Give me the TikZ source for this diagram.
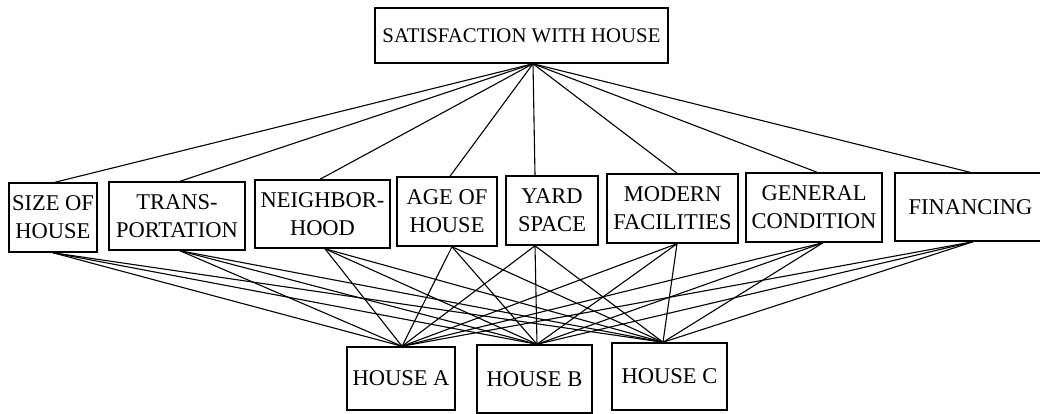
\documentclass[tikz,border=0pt]{standalone}
\usepackage{fontspec}
\setmainfont{Liberation Serif}
\begin{document}
\begin{tikzpicture}[x=1pt,y=-1pt,
  box/.style={draw,line width=1.5pt,inner sep=0pt,align=center,font=\fontsize{22.5}{28}\selectfont},
  link/.style={line width=1.1pt}]
\useasboundingbox (0,0) rectangle (1040,413);
% top
\node[box,minimum width=293pt,minimum height=55pt,font=\fontsize{20.8}{26}\selectfont] (goal) at (521.5,35.5) {SATISFACTION WITH HOUSE};
% criteria
\node[box,minimum width=88pt,minimum height=69pt] (size) at (53,217.5) {SIZE OF\\HOUSE};
\node[box,minimum width=136pt,minimum height=68pt] (trans) at (177,216) {TRANS-\\PORTATION};
\node[box,minimum width=135pt,minimum height=68pt] (neigh) at (322.5,214) {NEIGHBOR-\\HOOD};
\node[box,minimum width=100pt,minimum height=69pt] (age) at (447,211.5) {AGE OF\\HOUSE};
\node[box,minimum width=92pt,minimum height=69pt] (yard) at (552,210.5) {YARD\\SPACE};
\node[box,minimum width=131pt,minimum height=69pt] (modern) at (672.5,208.5) {MODERN\\FACILITIES};
\node[box,minimum width=136pt,minimum height=69pt] (general) at (814,207.5) {GENERAL\\CONDITION};
\node[box,minimum width=155pt,minimum height=68pt] (fin) at (972.5,207) {\hspace*{-4pt}FINANCING};
% alternatives
\node[box,minimum width=108pt,minimum height=63pt] (ha) at (401,378.5) {HOUSE A};
\node[box,minimum width=115pt,minimum height=68pt] (hb) at (534.5,379) {HOUSE B};
\node[box,minimum width=115pt,minimum height=67pt] (hc) at (669.5,376.5) {HOUSE C};
% connection points
\coordinate (gS) at ([xshift=11.5pt]goal.south);
\coordinate (sizeT) at ([xshift=2pt]size.north);
\coordinate (sizeB) at ([xshift=0pt]size.south);
\coordinate (transT) at ([xshift=3pt]trans.north);
\coordinate (transB) at ([xshift=3pt]trans.south);
\coordinate (neighT) at ([xshift=-2.5pt]neigh.north);
\coordinate (neighB) at ([xshift=2.5pt]neigh.south);
\coordinate (ageT) at ([xshift=3pt]age.north);
\coordinate (ageB) at ([xshift=5pt]age.south);
\coordinate (yardT) at ([xshift=-17pt]yard.north);
\coordinate (yardB) at ([xshift=-17pt]yard.south);
\coordinate (modernT) at ([xshift=4.5pt]modern.north);
\coordinate (modernB) at ([xshift=4.5pt]modern.south);
\coordinate (generalT) at ([xshift=3pt]general.north);
\coordinate (generalB) at ([xshift=9pt]general.south);
\coordinate (finT) at ([xshift=-2.5pt]fin.north);
\coordinate (finB) at ([xshift=0.5pt]fin.south);
\coordinate (haT) at ([xshift=1pt]ha.north);
\coordinate (hbT) at ([xshift=2.5pt]hb.north);
\coordinate (hcT) at ([xshift=-6.5pt]hc.north);
% links
\foreach \c in {size,trans,neigh,age,yard,modern,general,fin}{
  \draw[link] (gS) -- (\c T);
  \foreach \h in {ha,hb,hc}{
    \draw[link] (\c B) -- (\h T);
  }
}
\end{tikzpicture}
\end{document}
